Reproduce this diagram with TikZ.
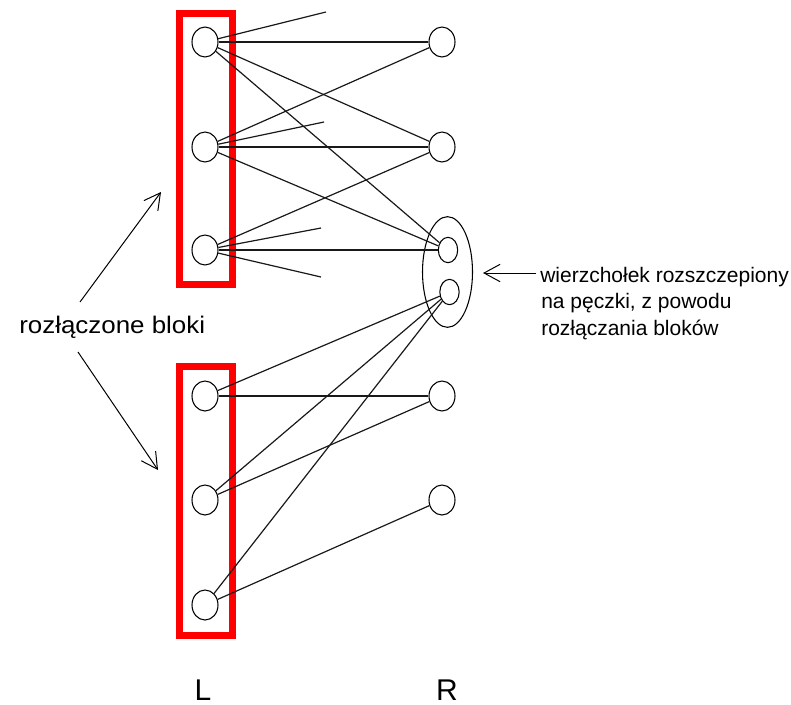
\documentclass[tikz,border=0pt]{standalone}
\usepackage{fontspec}
\setmainfont{Liberation Sans}
\usetikzlibrary{shapes.geometric,arrows.meta}
\begin{document}
\begin{tikzpicture}[x=0.75pt,y=-0.75pt,
  vert/.style={draw, ellipse, line width=0.8pt, minimum width=19.5pt, minimum height=22.5pt, inner sep=0pt},
  subvert/.style={draw, ellipse, line width=0.8pt, minimum width=14.5pt, minimum height=19pt, inner sep=0pt},
  bundle/.style={draw, ellipse, line width=0.8pt, minimum width=37.5pt, minimum height=83pt, inner sep=0pt},
  edge/.style={line width=0.9pt, black!90},
  block/.style={draw=red, line width=5.25pt, inner sep=0pt, minimum width=39.75pt},
  pointer/.style={line width=0.75pt, -{Straight Barb[length=12pt,width=13pt,line width=0.75pt]}},
  txt/.style={inner sep=0pt, anchor=base west}
]
\useasboundingbox (0,0) rectangle (791,704);

% red blocks
\node[block, minimum height=203.25pt] (blockA) at (205.5,148.5) {};
\node[block, minimum height=201.75pt] (blockB) at (205.5,500.5) {};

% left vertices
\node[vert] (L1) at (205,42) {};
\node[vert] (L2) at (205,147) {};
\node[vert] (L3) at (205,250) {};
\node[vert] (L4) at (205,396) {};
\node[vert] (L5) at (205,500) {};
\node[vert] (L6) at (205,605) {};

% right vertices
\node[vert] (R1) at (442,42) {};
\node[vert] (R2) at (442,147) {};
\node[bundle] (B) at (447.5,272) {};
\node[subvert] (R3) at (448,250) {};
\node[subvert] (R4) at (449.5,292) {};
\node[vert] (R5) at (442,396) {};
\node[vert] (R6) at (442,500) {};

% loose edge ends
\coordinate (s1) at (326,12);
\coordinate (s2) at (324,122);
\coordinate (s3) at (321,228);
\coordinate (s4) at (321,277);

% edges
\draw[edge] (L1) -- (s1);
\draw[edge] (L1) -- (R1);
\draw[edge] (L1) -- (R2);
\draw[edge] (L1) -- (R3);
\draw[edge] (L2) -- (R1);
\draw[edge] (L2) -- (s2);
\draw[edge] (L2) -- (R2);
\draw[edge] (L2) -- (R3);
\draw[edge] (L3) -- (R2);
\draw[edge] (L3) -- (s3);
\draw[edge] (L3) -- (R3);
\draw[edge] (L3) -- (s4);
\draw[edge] (L4) -- (R4);
\draw[edge] (L4) -- (R5);
\draw[edge] (L5) -- (R4);
\draw[edge] (L5) -- (R5);
\draw[edge] (L6) -- (R4);
\draw[edge] (L6) -- (R6);

% labels
\node[txt, font=\fontsize{18}{20}\selectfont, xscale=1.08] (lbl) at (19,333) {rozłączone bloki};
\coordinate (ua0) at (80,302);
\coordinate (ua1) at (161,192);
\coordinate (la0) at (78,352);
\coordinate (la1) at (158,470);
\draw[pointer] (ua0) -- (ua1);
\draw[pointer] (la0) -- (la1);

\node[txt, font=\fontsize{15.75}{19}\selectfont] (n1) at (540,282) {wierzchołek rozszczepiony};
\node[txt, font=\fontsize{15.75}{19}\selectfont] (n2) at (541,308.5) {na pęczki, z powodu};
\node[txt, font=\fontsize{15.75}{19}\selectfont] (n3) at (541,335) {rozłączania bloków};
\coordinate (ra0) at (536,273);
\coordinate (ra1) at (483,273);
\draw[pointer] (ra0) -- (ra1);

\node[inner sep=0pt, anchor=base, font=\fontsize{22.5}{24}\selectfont] (labL) at (203,700) {L};
\node[inner sep=0pt, anchor=base, font=\fontsize{22.5}{24}\selectfont] (labR) at (447,700) {R};
\end{tikzpicture}
\end{document}
